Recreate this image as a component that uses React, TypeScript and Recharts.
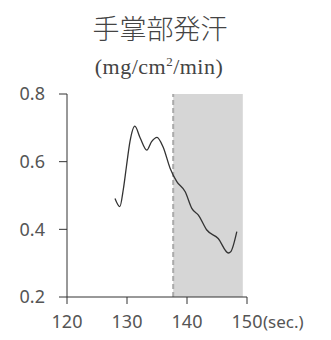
import { LineChart, Line, XAxis, YAxis, ReferenceArea, ReferenceLine } from 'recharts';

// time in seconds and palmar sweat rate (mg/cm2/min)
const seconds = [128, 128.8, 129.4, 129.9, 130.5, 131.3, 132.2, 133.3, 134.1, 135.0, 136.0, 137.2, 138.3, 139.7, 140.8, 141.9, 143.3, 145.2, 146.9, 147.3, 148.3];
const sweat = [0.491, 0.467, 0.52, 0.585, 0.66, 0.705, 0.67, 0.634, 0.659, 0.672, 0.644, 0.58, 0.541, 0.511, 0.462, 0.442, 0.398, 0.373, 0.33, 0.334, 0.393];

const xTicks = [120, 130, 140, 150];
const yTicks = [0.2, 0.4, 0.6, 0.8];

// shaded period
const shadeStart = 137.7;
const shadeEnd = 149.3;

const data = seconds.map((s, i) => ({ sec: s, value: sweat[i] }));

const tickFont = '"Noto Sans", sans-serif';

const XTick = (props: any) => {
  const { x, y, payload } = props;
  const last = payload.value === 150;
  return (
    <g>
      <text x={x} y={y + 22} textAnchor="middle" fontSize={18} fontFamily={tickFont} fill="#555">
        {payload.value}
      </text>
      {last && (
        <text x={x + 16} y={y + 22} textAnchor="start" fontSize={17} fontFamily={tickFont} fill="#555">
          (sec.)
        </text>
      )}
    </g>
  );
};

export default function App() {
  return (
    <div style={{ position: 'absolute', left: 0, top: 0, width: 331, height: 340, background: '#fff' }}>
      <div
        style={{
          position: 'absolute', left: 0, width: 320, top: 12, textAlign: 'center',
          fontFamily: '"Noto Sans CJK JP", sans-serif', fontWeight: 300, fontSize: 27, color: '#444', lineHeight: '32px',
        }}
      >
        手掌部発汗
      </div>
      <div
        style={{
          position: 'absolute', left: 0, width: 318, top: 49, textAlign: 'center',
          fontFamily: '"Liberation Serif", serif', fontSize: 22, letterSpacing: 0.5, color: '#444', lineHeight: '26px',
        }}
      >
        (mg/cm<sup style={{ fontSize: 13 }}>2</sup>/min)
      </div>
      <LineChart width={331} height={340} data={data} margin={{ top: 94, right: 84, left: 0, bottom: 0 }}>
        <ReferenceArea x1={shadeStart} x2={shadeEnd} y1={0.2} y2={0.8} fill="#d6d6d6" fillOpacity={1} stroke="none" />
        <ReferenceLine x={shadeStart} stroke="#aaa" strokeWidth={2} strokeDasharray="5 3" />
        <XAxis
          dataKey="sec"
          type="number"
          domain={[120, 150]}
          ticks={xTicks}
          height={43}
          stroke="#333"
          tickSize={7}
          tick={<XTick />}
          allowDataOverflow
        />
        <YAxis
          type="number"
          domain={[0.2, 0.8]}
          ticks={yTicks}
          width={67}
          stroke="#333"
          tickSize={8}
          tickMargin={14}
          tickFormatter={(v: number) => v.toFixed(1)}
          tick={{ fontSize: 18, fontFamily: tickFont, fill: '#555' }}
        />
        <Line
          type="monotone"
          dataKey="value"
          stroke="#333"
          strokeWidth={1.3}
          dot={false}
          isAnimationActive={false}
        />
      </LineChart>
    </div>
  );
}
